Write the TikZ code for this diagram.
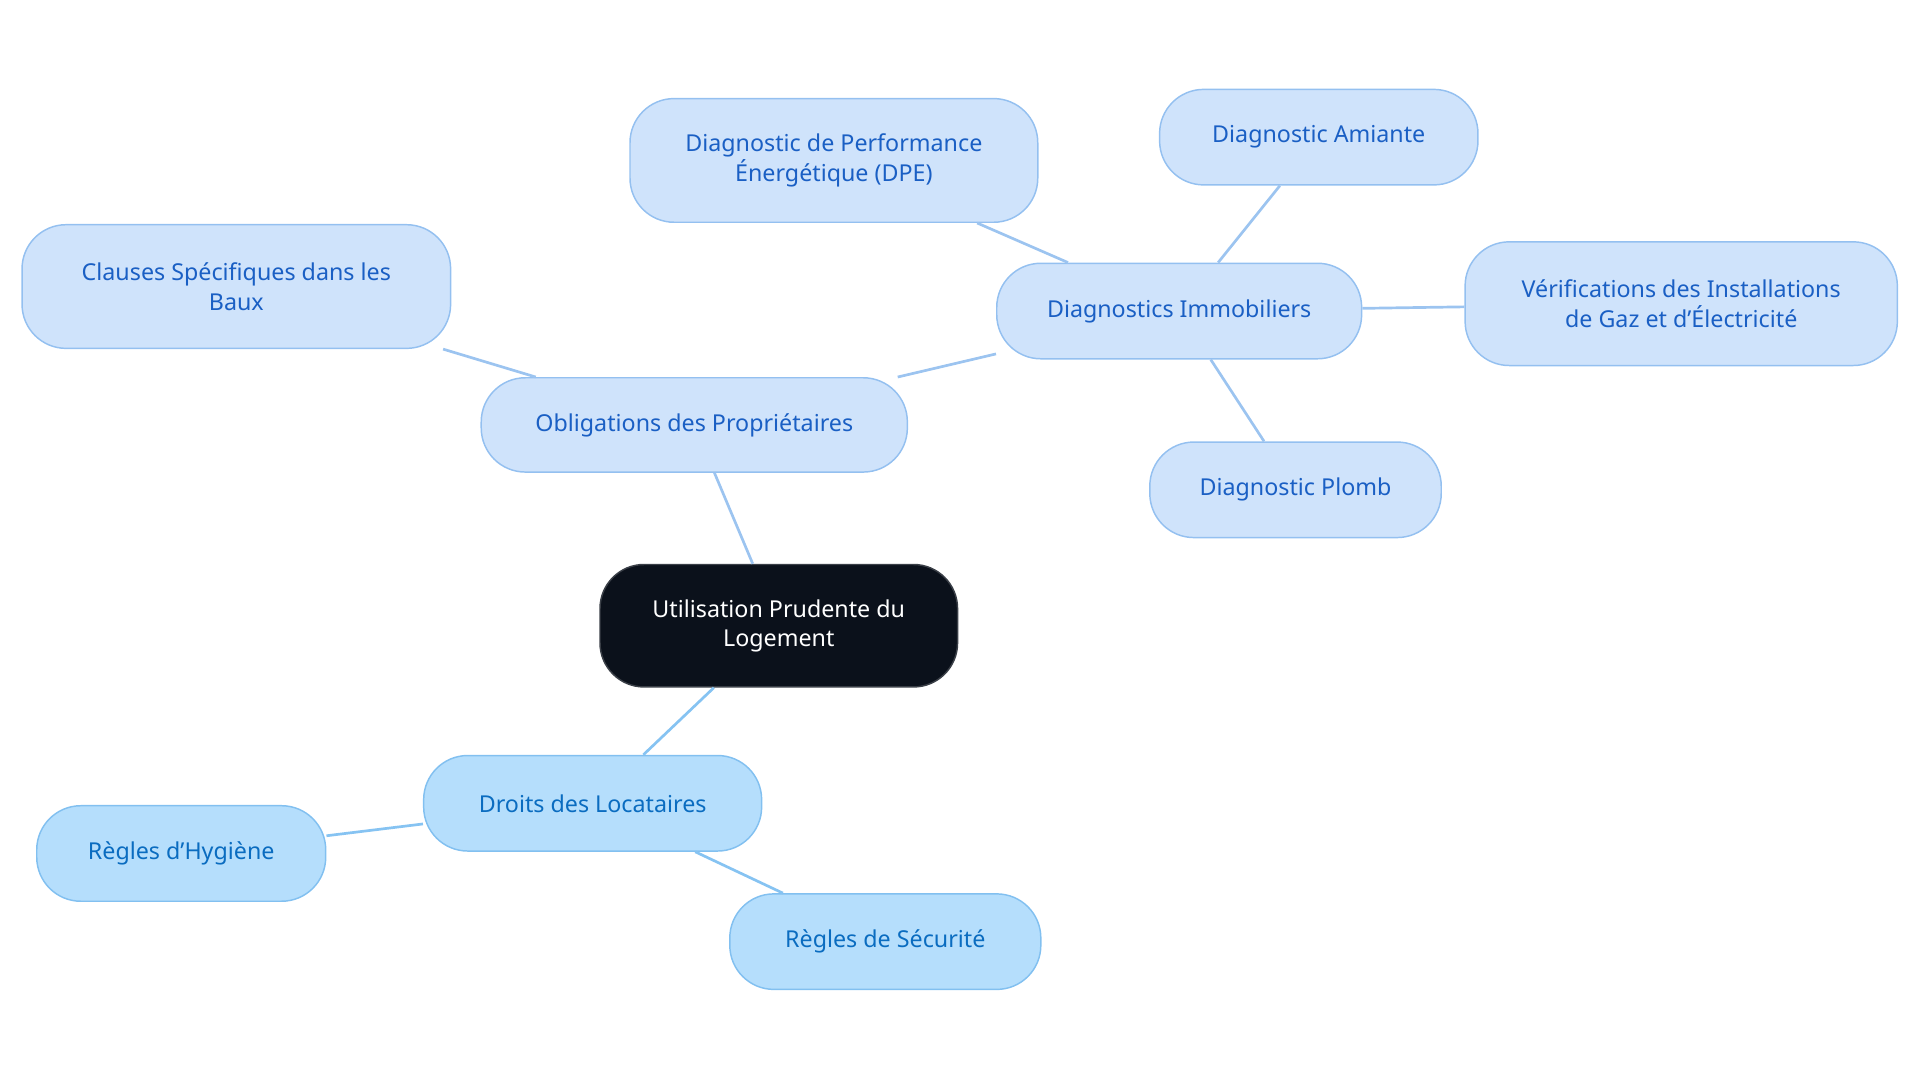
\documentclass[tikz,border=0pt]{standalone}
\usepackage{fontspec}
\setmainfont{Noto Sans}
\begin{document}
\begin{tikzpicture}[x=1pt,y=-1pt,
 base/.style={rounded corners=36pt,line width=1.2pt,align=center,inner sep=0pt,font=\fontsize{19}{24}\selectfont},
 own/.style={base,fill=ownfill,draw=ownline,text=owntext},
 loc/.style={base,fill=locfill,draw=locline,text=loctext},
 rootn/.style={base,fill=rootfill,draw=rootline,text=white},
 edge/.style={line width=2.2pt,draw=edgeo},
 edgel/.style={line width=2.2pt,draw=edgel}]
\definecolor{ownfill}{HTML}{CFE3FB}\definecolor{ownline}{HTML}{94C0F0}\definecolor{owntext}{HTML}{1A5FC4}
\definecolor{locfill}{HTML}{B5DEFC}\definecolor{locline}{HTML}{82C0F0}\definecolor{loctext}{HTML}{0A6CC0}
\definecolor{rootfill}{HTML}{0B111B}\definecolor{rootline}{HTML}{3A3F47}
\definecolor{edgeo}{HTML}{9CC4F0}\definecolor{edgel}{HTML}{86C3F2}
\useasboundingbox (0,0) rectangle (1568,884);
\node[rootn,minimum width=292pt,minimum height=100pt] (root) at (636,511) {Utilisation Prudente du\\Logement};
\node[own,minimum width=348pt,minimum height=77pt] (obl) at (567,347) {Obligations des Propriétaires};
\node[own,minimum width=350pt,minimum height=101pt] (cla) at (193,234) {Clauses Spécifiques dans les\\Baux};
\node[own,minimum width=298pt,minimum height=78pt] (dia) at (963,254) {Diagnostics Immobiliers};
\node[own,minimum width=333pt,minimum height=101pt] (dpe) at (681,131) {Diagnostic de Performance\\Énergétique (DPE)};
\node[own,minimum width=260pt,minimum height=78pt] (ami) at (1077,112) {Diagnostic Amiante};
\node[own,minimum width=353pt,minimum height=101pt] (ver) at (1373,248) {Vérifications des Installations\\de Gaz et d'Électricité};
\node[own,minimum width=238pt,minimum height=78pt] (plo) at (1058,400) {Diagnostic Plomb};
\node[loc,minimum width=276pt,minimum height=78pt] (dro) at (484,656) {Droits des Locataires};
\node[loc,minimum width=236pt,minimum height=78pt] (hyg) at (148,697) {Règles d'Hygiène};
\node[loc,minimum width=254pt,minimum height=78pt] (sec) at (723,769) {Règles de Sécurité};
\begin{scope}[on background layer/.style={}]
\draw[edge] (root) -- (obl);
\draw[edge] (obl) -- (cla);
\draw[edge] (obl) -- (dia);
\draw[edge] (dia) -- (dpe);
\draw[edge] (dia) -- (ami);
\draw[edge] (dia) -- (ver);
\draw[edge] (dia) -- (plo);
\draw[edgel] (root) -- (dro);
\draw[edgel] (dro) -- (hyg);
\draw[edgel] (dro) -- (sec);
\end{scope}
\end{tikzpicture}
\end{document}
